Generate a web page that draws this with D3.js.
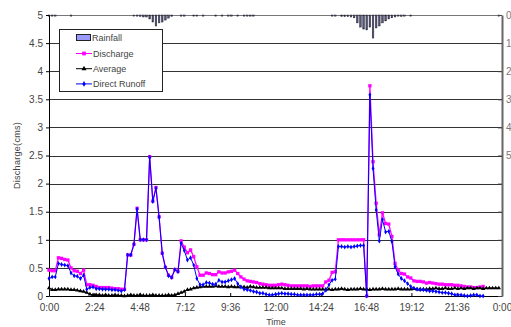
<!DOCTYPE html>
<html>
<head>
<meta charset="utf-8">
<script src="https://cdn.jsdelivr.net/npm/d3@7"></script>
<style>
  body { margin: 0; background: #fff; }
  svg { display: block; font-family: "Liberation Sans", Arial, sans-serif; }
</style>
</head>
<body>
<script>
// 10-minute steps from 0:00
const STEP_HOURS = 1 / 6;

// Discharge (cms)
const discharge = [
  .46, .45, .45, .68, .67, .65, .64, .50, .45, .44,
  .40, .46, .20, .20, .19, .17, .15, .15, .15, .15,
  .14, .13, .13, .12, .12, .73, .73, .92, 1.56, 1.00,
  1.00, 1.00, 2.48, 1.69, 1.93, 1.41, .76, .51, .37, .33,
  .47, .44, .98, .87, .77, .82, .70, .52, .37, .37,
  .41, .40, .38, .38, .43, .41, .41, .43, .44, .46,
  .40, .34, .30, .27, .26, .25, .24, .22, .21, .20,
  .19, .19, .19, .20, .21, .20, .19, .18, .18, .18,
  .18, .18, .18, .17, .18, .18, .18, .18, .25, .28,
  .42, .43, 1.00, 1.00, 1.00, 1.00, 1.00, 1.00, 1.00, 1.00,
  1.00, 0.00, 3.74, 2.39, 1.65, 1.09, 1.48, 1.29, 1.28, 1.06,
  .58, .46, .40, .39, .34, .32, .27, .26, .26, .25,
  .23, .24, .23, .22, .21, .21, .20, .20, .20, .19,
  .19, .18, .17, .16, .16, .15, .15, .16, .17
];

// Direct runoff (cms)
const directRunoff = [
  .31, .34, .34, .58, .56, .55, .54, .41, .36, .35,
  .31, .37, .12, .15, .16, .13, .13, .12, .12, .12,
  .11, .11, .10, .09, .11, .73, .73, .92, 1.55, 1.00,
  1.00, 1.00, 2.47, 1.68, 1.92, 1.40, .76, .51, .36, .33,
  .47, .43, .94, .81, .64, .68, .55, .31, .20, .20,
  .24, .23, .21, .21, .28, .25, .25, .27, .29, .31,
  .22, .16, .12, .11, .10, .08, .07, .05, .05, .03,
  .02, .02, .03, .04, .05, .04, .04, .03, .03, .02,
  .02, .02, .02, .02, .02, .03, .03, .04, .10, .20,
  .28, .30, .88, .88, .87, .88, .87, .88, .89, .90,
  .90, 0.00, 3.58, 2.27, 1.53, .98, 1.36, 1.14, 1.15, .97,
  .52, .39, .31, .27, .22, .17, .14, .12, .11, .11,
  .10, .09, .09, .08, .07, .06, .06, .05, .04, .02,
  .02, .02, .01, .00, .01, .02, .02, .00, .00
];

// Average (baseflow) (cms)
const average = [
  .14, .11, .11, .12, .12, .12, .12, .11, .11, .10,
  .09, .08, .06, .03, .02, .02, .02, .01, .02, .01,
  .01, .02, .01, .01, .00, .01, .02, .01, .01, .02,
  .01, .01, .01, .02, .01, .01, .01, .01, .02, .01,
  .02, .04, .06, .08, .11, .12, .14, .15, .16, .17,
  .17, .17, .17, .18, .17, .17, .17, .16, .17, .16,
  .16, .16, .16, .15, .17, .16, .15, .15, .15, .15,
  .14, .14, .14, .14, .14, .13, .13, .13, .13, .13,
  .13, .12, .13, .12, .12, .12, .12, .12, .12, .12,
  .11, .12, .12, .13, .12, .11, .12, .12, .12, .13,
  .12, .12, .11, .12, .12, .12, .13, .12, .12, .12,
  .12, .13, .12, .12, .12, .12, .13, .12, .12, .12,
  .12, .13, .13, .14, .13, .13, .14, .13, .13, .14,
  .13, .14, .13, .14, .14, .13, .14, .14, .13, .14,
  .14, .14, .14, .14
];

// Rainfall (mm), one row per 2 hours
const rainfall = [
  .4, .4, .4, 0, 0, 0, 0, .4, 0, 0, 0, 0,
  0, 0, 0, 0, 0, 0, 0, 0, 0, 0, 0, 0,
  0, 0, 0, .4, .4, .5, .7, .7, 1.4, 2.5, 3.9, 2.8,
  2.5, 1.8, 1.1, .5, 0, 0, .4, .4, 0, 0, .4, .4,
  0, .4, 0, 0, 0, .4, 0, .4, 0, .4, .4, 0,
  .4, 0, .4, .4, .4, .4, 0, 0, 0, 0, 0, 0,
  0, 0, 0, 0, 0, 0, 0, 0, 0, 0, 0, 0,
  0, 0, 0, 0, 0, 0, .4, .4, 0, .5, .6, .6,
  .7, 1.0, 2.8, 4.3, 5.0, 5.3, 4.3, 8.2, 4.6, 3.9, 2.8, 2.1,
  1.4, 1.0, .7, .4, .5, .4, 0, .4, 0, 0, 0, 0,
  0, 0, 0, 0, 0, 0, 0, 0, 0, 0, 0, 0,
  0, 0, 0, 0, 0, 0, 0, 0, 0, 0, 0, .4
];

const xTickHours = [0, 2.4, 4.8, 7.2, 9.6, 12, 14.4, 16.8, 19.2, 21.6, 24];
const xTickLabels = ['0:00', '2:24', '4:48', '7:12', '9:36', '12:00', '14:24', '16:48', '19:12', '21:36', '0:00'];
const yTicks = [0, 0.5, 1, 1.5, 2, 2.5, 3, 3.5, 4, 4.5, 5];
const rainTicks = [0, 10, 20, 30, 40, 50, 60, 70, 80, 90, 100];
const rainTickLabels = ['0', '10', '20', '30', '40', '50', '', '', '', '', ''];

const W = 511, H = 327;
const margin = { top: 15, right: 9, bottom: 31, left: 49 };

const svg = d3.select('body').append('svg')
  .attr('width', W)
  .attr('height', H);

const x = d3.scaleLinear().domain([0, 24]).range([margin.left, W - margin.right]);
const y = d3.scaleLinear().domain([0, 5]).range([H - margin.bottom, margin.top]);
const yRain = d3.scaleLinear().domain([0, 100]).range([margin.top, H - margin.bottom]);

const t = i => i * STEP_HOURS;

// Grid
svg.append('g')
  .selectAll('line')
  .data(yTicks.slice(1))
  .join('line')
  .attr('x1', margin.left)
  .attr('x2', W - margin.right)
  .attr('y1', d => Math.round(y(d)) + 0.5)
  .attr('y2', d => Math.round(y(d)) + 0.5)
  .attr('stroke', d => d === 5 ? '#777' : '#333')
  .attr('stroke-width', 1.2);

// Rainfall bars (hanging from top)
svg.append('g')
  .selectAll('rect')
  .data(rainfall.map((v, i) => ({ i, v })).filter(d => d.v > 0))
  .join('rect')
  .attr('x', d => x(t(d.i)) - 0.8)
  .attr('y', margin.top)
  .attr('width', 1.6)
  .attr('height', d => yRain(d.v) - margin.top)
  .attr('fill', '#55557a')
  .attr('stroke', '#222230')
  .attr('stroke-width', 0.5);

// Axes
const xAxis = d3.axisBottom(x)
  .tickValues(xTickHours)
  .tickFormat((d, i) => xTickLabels[i])
  .tickSizeInner(-3)
  .tickSizeOuter(0)
  .tickPadding(8);

svg.append('g')
  .attr('transform', `translate(0, ${H - margin.bottom})`)
  .call(xAxis)
  .call(g => g.select('.domain').attr('stroke', '#000'))
  .call(g => g.selectAll('text').attr('font-size', 10).attr('fill', '#444'));

const yAxis = d3.axisLeft(y)
  .tickValues(yTicks)
  .tickFormat(d3.format('~g'))
  .tickSizeInner(3)
  .tickSizeOuter(0)
  .tickPadding(3);

svg.append('g')
  .attr('transform', `translate(${margin.left}, 0)`)
  .call(yAxis)
  .call(g => g.select('.domain').attr('stroke', '#000'))
  .call(g => g.selectAll('text').attr('font-size', 10).attr('fill', '#444'));

const rainAxis = d3.axisRight(yRain)
  .tickValues(rainTicks)
  .tickFormat((d, i) => rainTickLabels[i])
  .tickSizeInner(-4)
  .tickSizeOuter(0)
  .tickPadding(4);

svg.append('g')
  .attr('transform', `translate(${W - margin.right}, 0)`)
  .call(rainAxis)
  .call(g => g.select('.domain').attr('stroke', '#666').attr('stroke-width', 2))
  .call(g => g.selectAll('line').attr('stroke', '#444'))
  .call(g => g.selectAll('text').attr('font-size', 10).attr('fill', '#777'));

// Series
const series = [
  { name: 'Discharge', data: discharge, color: '#ff00ff', width: 1.3, marker: 'square' },
  { name: 'Average', data: average, color: '#000000', width: 1.1, marker: 'triangle' },
  { name: 'Direct Runoff', data: directRunoff, color: '#0000ff', width: 1, marker: 'diamond' }
];

const symbolFor = m => m === 'square' ? d3.symbolSquare : m === 'triangle' ? d3.symbolTriangle : d3.symbolDiamond;
const sizeFor = m => m === 'square' ? 11 : m === 'triangle' ? 8 : 7;

const line = d3.line()
  .x((d, i) => x(t(i)))
  .y(d => y(d));

series.forEach(s => {
  svg.append('path')
    .datum(s.data)
    .attr('fill', 'none')
    .attr('stroke', s.color)
    .attr('stroke-width', s.width)
    .attr('d', line);

  svg.append('g')
    .selectAll('path')
    .data(s.data)
    .join('path')
    .attr('transform', (d, i) => `translate(${x(t(i))}, ${y(d)})`)
    .attr('d', d3.symbol().type(symbolFor(s.marker)).size(sizeFor(s.marker)))
    .attr('fill', s.color);
});

// Axis titles
svg.append('text')
  .attr('transform', `translate(20, ${(margin.top + H - margin.bottom) / 2}) rotate(-90)`)
  .attr('text-anchor', 'middle')
  .attr('font-size', 9)
  .attr('letter-spacing', 0.3)
  .attr('fill', '#444')
  .text('Discharge(cms)');

svg.append('text')
  .attr('x', 276)
  .attr('y', 325)
  .attr('text-anchor', 'middle')
  .attr('font-size', 9)
  .attr('fill', '#444')
  .text('Time');

// Legend
const leg = svg.append('g').attr('id', 'legend');

leg.append('rect')
  .attr('x', 59.5)
  .attr('y', 29.5)
  .attr('width', 103)
  .attr('height', 62)
  .attr('fill', '#fff')
  .attr('stroke', '#222')
  .attr('stroke-width', 1);

leg.append('rect')
  .attr('x', 76.5)
  .attr('y', 34.5)
  .attr('width', 14)
  .attr('height', 6)
  .attr('fill', '#9999ff')
  .attr('stroke', '#222');

leg.append('text')
  .attr('x', 92)
  .attr('y', 41)
  .attr('font-size', 9)
  .attr('fill', '#444')
  .text('Rainfall');

series.forEach((s, k) => {
  const ly = 53.5 + k * 15.2;
  leg.append('line')
    .attr('x1', 76)
    .attr('x2', 92)
    .attr('y1', ly)
    .attr('y2', ly)
    .attr('stroke', s.color)
    .attr('stroke-width', 1);
  leg.append('path')
    .attr('transform', `translate(84, ${ly})`)
    .attr('d', d3.symbol().type(symbolFor(s.marker)).size(sizeFor(s.marker) + 3))
    .attr('fill', s.color);
  leg.append('text')
    .attr('x', 93)
    .attr('y', ly + 3.3)
    .attr('font-size', 9)
    .attr('fill', '#444')
    .text(s.name);
});
</script>
</body>
</html>
